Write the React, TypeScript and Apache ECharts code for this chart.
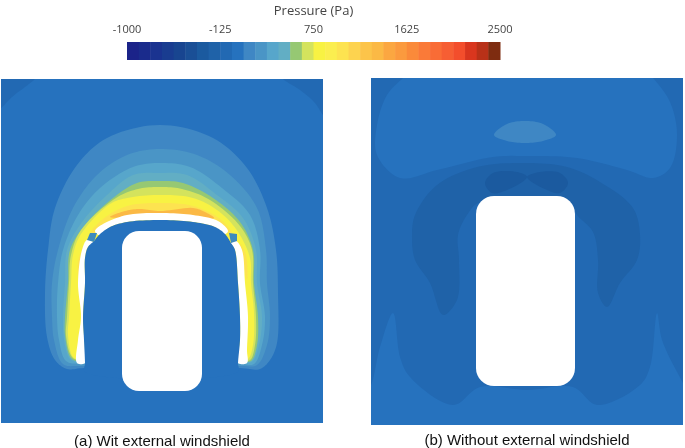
import React, { useEffect, useRef } from "react";
import * as echarts from "echarts";

type Pt = [number, number];
type Contour = { level: number; points: Pt[] };

// Colour scale
const scaleMin = -1000;
const scaleMax = 2500;
const tickValues = [-1000, -125, 750, 1625, 2500];
const palette = [
  "#1b2389", "#1a2b8c", "#1a3390", "#193c90", "#184590", "#1a4f96", "#1b5a9f", "#1f62a8",
  "#2269b3", "#2672be", "#3f87c4", "#4a95c6", "#57a6cb", "#62aec4", "#96c873", "#d4e35d",
  "#f8f243", "#fbee4f", "#fde350", "#fdd34f", "#fcc44a", "#fbb945", "#fba741", "#fb9a3e",
  "#fa8a3a", "#fa7a38", "#f96c36", "#f65e33", "#f34e2c", "#d9361e", "#b83118", "#7e2c10",
];

// Panel (a): pressure contours with the external windshield
const contoursA: Contour[] = [
  { level: 8, points: [[-6, 70], [-6, 112], [1, 108], [12, 97], [25, 87], [35, 79], [42, 70]] },
  { level: 8, points: [[276, 70], [283, 79], [300, 90], [315, 103], [323, 115], [330, 122], [330, 70]] },
  { level: 10, points: [[84, 368], [67, 369], [55, 360], [47, 337], [45, 293], [48, 250], [55, 208], [77, 165], [107, 138], [160, 125], [213, 138], [247, 168], [267, 208], [276, 250], [278, 293], [277, 343], [270, 360], [260, 369], [240, 368]] },
  { level: 11, points: [[82, 366], [63, 364], [54, 340], [52, 317], [52, 283], [58, 250], [73, 208], [97, 175], [127, 155], [160, 149], [197, 155], [230, 175], [257, 208], [266, 250], [267, 283], [270, 317], [267, 345], [257, 365], [240, 366]] },
  { level: 12, points: [[82, 364], [66, 361], [59, 340], [57, 317], [58, 283], [63, 250], [78, 215], [100, 188], [133, 167], [160, 163], [190, 167], [222, 188], [250, 215], [260, 250], [260, 283], [265, 317], [262, 345], [254, 364], [240, 364]] },
  { level: 13, points: [[82, 363], [70, 359], [64, 340], [63, 317], [65, 283], [67, 250], [82, 222], [107, 195], [133, 175], [160, 173], [187, 175], [217, 195], [243, 218], [256, 250], [257, 283], [262, 317], [259, 345], [252, 362], [240, 362]] },
  { level: 14, points: [[82, 362], [71, 358], [65, 335], [65, 317], [68, 283], [70, 250], [85, 225], [113, 198], [137, 183], [160, 181], [183, 183], [213, 198], [240, 222], [253, 250], [254, 283], [258, 317], [257, 345], [251, 361], [240, 361]] },
  { level: 15, points: [[82, 361], [72, 357], [66, 335], [67, 317], [69, 283], [71, 255], [81, 230], [116, 198], [138, 189], [160, 187], [182, 189], [210, 200], [240, 226], [252, 250], [253, 283], [256, 317], [255, 345], [250, 360], [240, 360]] },
  { level: 16, points: [[82, 360], [73, 357], [68, 335], [69, 317], [71, 283], [73, 255], [81, 234], [110, 204], [127, 198], [160, 195], [193, 198], [217, 210], [236, 229], [250, 258], [251, 283], [254, 313], [253, 345], [248, 359], [240, 359]] },
  { level: 18, points: [[90, 234], [103, 219], [127, 206], [160, 203], [193, 206], [220, 219], [232, 234], [200, 222], [160, 216], [120, 222]] },
  { level: 21, points: [[110, 217], [125, 211], [140, 209], [160, 211], [193, 208], [205, 212], [214, 218], [160, 216]] },
  { level: 18, points: [[79, 283], [78, 262], [84, 245], [88, 240], [84, 255], [81, 270]] },
  { level: 18, points: [[240, 244], [246, 255], [247, 280], [243, 264]] },
];

// Panel (a): white windshield gap, drawn as a band
const windshieldA: Pt[][] = [
  [[77, 363], [78, 340], [81, 317], [78, 283], [82, 250], [87, 240], [94, 243], [88, 247], [85, 258], [85, 283], [83, 317], [85, 350], [85, 363]],
  [[95, 231], [103, 224], [127, 215], [160, 213], [193, 215], [218, 221], [228, 231], [225, 234], [215, 227], [193, 222], [160, 220], [127, 222], [110, 227], [99, 235]],
  [[236, 241], [242, 250], [245, 283], [248, 317], [247, 350], [247, 363], [238, 363], [240, 340], [240, 317], [238, 283], [235, 250], [231, 243]],
];
// Panel (a): blue region below the windshield
const interiorA: Pt[] = [[85, 372], [85, 363], [84, 340], [83, 317], [85, 283], [85, 258], [88, 247], [94, 241], [99, 235], [110, 227], [127, 222], [160, 220], [193, 222], [215, 227], [225, 234], [231, 243], [235, 250], [238, 283], [240, 317], [240, 340], [238, 363], [238, 372]];
// Panel (a): small patches where the windshield is interrupted
const patchesA: Pt[][] = [
  [[87, 240], [90, 233], [97, 233], [94, 242]],
  [[229, 233], [237, 234], [237, 241], [231, 243]],
];

// Panel (b): pressure contours without the windshield
const contoursB: Contour[] = [
  { level: 9, points: [[412, 70], [403, 78], [387, 95], [377, 125], [377, 155], [400, 178], [437, 170], [493, 157], [527, 156], [577, 158], [627, 170], [653, 178], [670, 168], [677, 135], [670, 102], [653, 78], [645, 70]] },
  { level: 9, points: [[364, 432], [364, 395], [371, 385], [380, 347], [393, 313], [400, 357], [410, 377], [453, 405], [480, 387], [527, 390], [573, 387], [597, 405], [640, 385], [650, 367], [657, 313], [662, 340], [683, 383], [690, 395], [690, 432]] },
  { level: 10, points: [[494, 135], [507, 124], [525, 121], [543, 124], [556, 135], [543, 141], [525, 143], [507, 141]] },
  { level: 7, points: [[523, 163], [477, 167], [437, 185], [415, 215], [412, 238], [415, 260], [430, 283], [443, 315], [457, 300], [459, 260], [458, 235], [467, 215], [480, 202], [570, 202], [577, 215], [593, 232], [598, 260], [598, 293], [607, 307], [620, 283], [637, 260], [640, 235], [633, 208], [600, 182], [567, 167]] },
  { level: 6, points: [[485, 183], [493, 173], [517, 172], [527, 177], [507, 190], [492, 193]] },
  { level: 6, points: [[527, 177], [540, 172], [560, 173], [568, 183], [560, 193], [547, 190]] },
];

// Vehicle bodies: [left, top, right, bottom, corner radius]
const vehicleA = [122, 231, 202, 391, 17];
const vehicleB = [476, 196, 575, 386, 18];

const panelAExtent = [1, 323, 79, 423];
const panelBExtent = [371, 683, 78, 425];
const captionA = "(a) Wit external windshield";
const captionB = "(b) Without external windshield";

const bandStep = (scaleMax - scaleMin) / palette.length;
const bands = palette.map((_, i) => [scaleMin + i * bandStep, scaleMin + (i + 1) * bandStep, i]);

// Closed centripetal Catmull-Rom through the outline's points, in pixels
function outline(points: number[][]): number[][] {
  const n = points.length;
  const out: number[][] = [];
  const dist = (a: number[], b: number[]) => Math.max(Math.sqrt(Math.hypot(a[0] - b[0], a[1] - b[1])), 1e-3);
  const mix = (a: number[], b: number[], ta: number, tb: number, t: number) => {
    const k = (t - ta) / (tb - ta);
    return [a[0] + (b[0] - a[0]) * k, a[1] + (b[1] - a[1]) * k];
  };
  for (let i = 0; i < n; i++) {
    const p0 = points[(i - 1 + n) % n];
    const p1 = points[i];
    const p2 = points[(i + 1) % n];
    const p3 = points[(i + 2) % n];
    const t0 = 0;
    const t1 = t0 + dist(p0, p1);
    const t2 = t1 + dist(p1, p2);
    const t3 = t2 + dist(p2, p3);
    for (let s = 0; s < 10; s++) {
      const t = t1 + ((t2 - t1) * s) / 10;
      const a1 = mix(p0, p1, t0, t1, t);
      const a2 = mix(p1, p2, t1, t2, t);
      const a3 = mix(p2, p3, t2, t3, t);
      const b1 = mix(a1, a2, t0, t2, t);
      const b2 = mix(a2, a3, t1, t3, t);
      out.push(mix(b1, b2, t1, t2, t));
    }
  }
  return out;
}

function polygonSeries(polys: Pt[][], fill: (i: number) => string, axis: number, curved = true) {
  return {
    type: "custom",
    coordinateSystem: "cartesian2d",
    xAxisIndex: axis,
    yAxisIndex: axis,
    clip: true,
    silent: true,
    encode: { x: 0, y: 0 },
    data: polys.map((_, i) => [i]),
    renderItem: (params: any, api: any) => {
      const pts = polys[params.dataIndex].map((p) => api.coord(p));
      return {
        type: "polygon",
        shape: { points: curved ? outline(pts) : pts },
        style: { fill: fill(params.dataIndex) },
      };
    },
  };
}

function contourSeries(list: Contour[], axis: number) {
  return polygonSeries(list.map((c) => c.points), (i) => palette[list[i].level], axis);
}

function vehicleSeries(v: number[], axis: number) {
  return {
    type: "custom",
    coordinateSystem: "cartesian2d",
    xAxisIndex: axis,
    yAxisIndex: axis,
    silent: true,
    encode: { x: 0, y: 1 },
    data: [[v[0], v[1]]],
    renderItem: (_: any, api: any) => {
      const a = api.coord([v[0], v[1]]);
      const b = api.coord([v[2], v[3]]);
      return {
        type: "rect",
        shape: { x: a[0], y: a[1], width: b[0] - a[0], height: b[1] - a[1], r: v[4] },
        style: { fill: "#ffffff" },
      };
    },
  };
}

const hiddenY = (e: number[]) => ({
  type: "value",
  min: e[2],
  max: e[3],
  inverse: true,
  show: false,
});
const panelX = (e: number[], name: string, gap: number) => ({
  type: "value",
  min: e[0],
  max: e[1],
  name,
  nameLocation: "middle",
  nameGap: gap,
  nameTextStyle: { fontFamily: "Liberation Sans", fontSize: 15, color: "#111" },
  axisLine: { show: false },
  axisTick: { show: false },
  axisLabel: { show: false },
  splitLine: { show: false },
});

export default function App() {
  const ref = useRef<HTMLDivElement>(null);
  useEffect(() => {
    document.body.style.margin = "0";
    const chart = echarts.init(ref.current!, undefined, { renderer: "svg" });
    chart.setOption({
      animation: false,
      backgroundColor: "#ffffff",
      grid: [
        { left: 127, top: 42, width: 373, height: 18, outerBoundsMode: "none" },
        { left: 1, top: 79, width: 322, height: 344, show: true, backgroundColor: palette[9], borderWidth: 0, outerBoundsMode: "none" },
        { left: 371, top: 78, width: 312, height: 347, show: true, backgroundColor: palette[8], borderWidth: 0, outerBoundsMode: "none" },
      ],
      xAxis: [
        {
          gridIndex: 0,
          type: "value",
          position: "top",
          min: scaleMin,
          max: scaleMax,
          name: "Pressure (Pa)",
          nameLocation: "middle",
          nameGap: 26,
          nameTextStyle: { fontFamily: "Open Sans", fontSize: 13, color: "#444" },
          axisLine: { show: false },
          axisTick: { show: false },
          splitLine: { show: false },
          axisLabel: {
            customValues: tickValues,
            formatter: (v: number) => String(v),
            margin: 8,
            fontFamily: "Open Sans",
            fontSize: 11,
            color: "#444",
          },
        },
        { gridIndex: 1, ...panelX(panelAExtent, captionA, 10) },
        { gridIndex: 2, ...panelX(panelBExtent, captionB, 7) },
      ],
      yAxis: [
        { gridIndex: 0, type: "value", min: 0, max: 1, show: false },
        { gridIndex: 1, ...hiddenY(panelAExtent) },
        { gridIndex: 2, ...hiddenY(panelBExtent) },
      ],
      series: [
        {
          type: "custom",
          coordinateSystem: "cartesian2d",
          xAxisIndex: 0,
          yAxisIndex: 0,
          silent: true,
          encode: { x: [0, 1] },
          data: bands,
          renderItem: (_: any, api: any) => {
            const a = api.coord([api.value(0), 1]);
            const b = api.coord([api.value(1), 0]);
            return {
              type: "rect",
              shape: { x: a[0], y: a[1], width: b[0] - a[0] + 0.5, height: b[1] - a[1] },
              style: { fill: palette[api.value(2)] },
            };
          },
        },
        contourSeries(contoursA, 1),
        polygonSeries(windshieldA, () => "#ffffff", 1),
        polygonSeries([interiorA], () => palette[9], 1),
        polygonSeries(patchesA, () => "#3d8abd", 1, false),
        vehicleSeries(vehicleA, 1),
        contourSeries(contoursB, 2),
        vehicleSeries(vehicleB, 2),
      ],
    });
    return () => chart.dispose();
  }, []);
  return <div ref={ref} style={{ width: 685, height: 448, position: "fixed", left: 0, top: 0, filter: "blur(0.5px)" }} />;
}
